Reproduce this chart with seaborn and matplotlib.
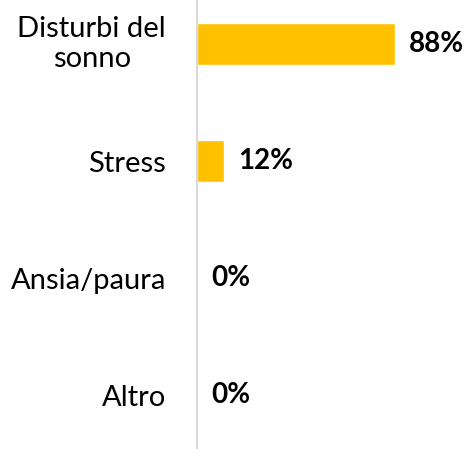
"""Barre orizzontali: disturbi riportati (percentuale)."""

import matplotlib
matplotlib.use("Agg")
import matplotlib.pyplot as plt
import pandas as pd
import seaborn as sns

categorie = ["Disturbi del\nsonno", "Stress", "Ansia/paura", "Altro"]
percentuali = [88, 12, 0, 0]

df = pd.DataFrame({"categoria": categorie, "perc": percentuali})

sns.set_style("white")
plt.rcParams["font.family"] = ["Lato", "DejaVu Sans"]

DPI = 100
AX_W_PX = 470 - 197
GAP_PX = 31  # distanza tra asse e bordo destro delle etichette

fig = plt.figure(figsize=(4.70, 4.49), dpi=DPI)
# asse: 0 a x=197 px, 117 px per categoria, centro prima barra a y=44 px
ax = fig.add_axes([197 / 470, -4.5 / 449, AX_W_PX / 470, 468 / 449])

sns.barplot(
    data=df,
    x="perc",
    y="categoria",
    orient="h",
    color="#FFC000",
    saturation=1,
    width=0.36,
    ax=ax,
)

for cont in ax.containers:
    ax.bar_label(
        cont,
        labels=[f"{v}%" for v in percentuali],
        padding=10,
        fontsize=20,
        fontweight="bold",
        color="black",
    )

ax.set_xlim(0, 121.3)
ax.set_ylim(3.5, -0.5)
ax.set_xlabel("")
ax.set_ylabel("")
ax.set_xticks([])
ax.set_yticks(range(len(categorie)))
# etichette su una riga come tick, quelle su più righe come testo centrato
ax.set_yticklabels(["" if "\n" in c else c for c in categorie])
ax.tick_params(axis="y", length=0, pad=GAP_PX * 72 / DPI, labelsize=21,
               labelcolor="black")

multi = []
for i, c in enumerate(categorie):
    if "\n" in c:
        t = ax.text(0, i, c, transform=ax.get_yaxis_transform(),
                    ha="center", va="center", multialignment="center",
                    fontsize=21, color="black")
        multi.append(t)

sns.despine(ax=ax, top=True, right=True, bottom=True, left=False)
ax.spines["left"].set_color("#D9D9D9")
ax.spines["left"].set_linewidth(1.5)

fig.canvas.draw()
renderer = fig.canvas.get_renderer()
for t in multi:
    w = t.get_window_extent(renderer).width
    t.set_x(-(GAP_PX + w / 2) / AX_W_PX)

fig.savefig("out.png", dpi=DPI)
plt.close(fig)
